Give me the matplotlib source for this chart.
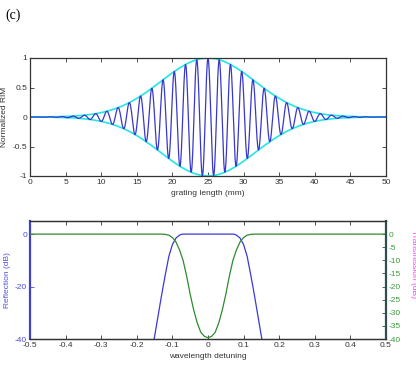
import numpy as np
import matplotlib.pyplot as plt

plt.rcParams['font.family'] = ['Liberation Sans', 'DejaVu Sans']
plt.rcParams['axes.unicode_minus'] = False

# top panel: apodisation envelope (every 1 mm, 0..50)
grating_mm = np.arange(0, 51, 1.0)
envelope = [0.0, 0.001, 0.002, 0.004, 0.006, 0.010, 0.015, 0.024, 0.035, 0.052,
            0.074, 0.104, 0.142, 0.189, 0.247, 0.315, 0.392, 0.477, 0.567, 0.660,
            0.749, 0.831, 0.901, 0.955, 0.989, 1.0,
            0.989, 0.955, 0.901, 0.831, 0.749, 0.660, 0.567, 0.477, 0.392, 0.315,
            0.247, 0.189, 0.142, 0.104, 0.074, 0.052, 0.035, 0.024, 0.015, 0.010,
            0.006, 0.004, 0.002, 0.001, 0.0]
grating_period = 1.58
grating_centre = 25.0

# bottom panel: reflection / transmission spectra (dB)
refl_x = [-0.165, -0.15, -0.14, -0.13, -0.12, -0.11, -0.10, -0.09, -0.08, -0.075, -0.07,
          0.07, 0.075, 0.08, 0.09, 0.10, 0.11, 0.12, 0.13, 0.14, 0.15, 0.165]
refl_db = [-50, -39, -31, -23, -15.5, -8.5, -4, -1.5, -0.4, -0.1, 0,
           0, -0.1, -0.4, -1.5, -4, -8.5, -15.5, -23, -31, -39, -50]
trans_x = [-0.5, -0.13, -0.12, -0.11, -0.10, -0.09, -0.08, -0.07, -0.06, -0.05, -0.04,
           -0.03, -0.02, -0.01, 0.0, 0.01, 0.02, 0.03, 0.04, 0.05, 0.06, 0.07, 0.08,
           0.09, 0.10, 0.11, 0.12, 0.13, 0.5]
trans_db = [0, 0, -0.1, -0.4, -1.3, -3, -6, -10, -16, -23, -29,
            -34, -37.5, -39, -39.5, -39, -37.5, -34, -29, -23, -16, -10, -6,
            -3, -1.3, -0.4, -0.1, 0, 0]

W, H = 416, 377
fig = plt.figure(figsize=(W / 100, H / 100), dpi=100)

fs = 6.0
dark = '#333333'


def style(ax):
    ax.tick_params(direction='in', length=3, width=0.6, labelsize=fs, pad=2,
                   top=True, colors=dark)
    for s in ax.spines.values():
        s.set_color(dark)
        s.set_linewidth(0.9)


# ---- top: normalized refractive index modulation
ax1 = fig.add_axes([30 / W, 1 - 176 / H, 356 / W, 118 / H])
x = np.linspace(0, 50, 2001)
env = np.interp(x, grating_mm, envelope)
rim = env * np.cos(2 * np.pi * (x - grating_centre) / grating_period)
ax1.plot(grating_mm, envelope, color='#22e6e6', lw=1.2)
ax1.plot(grating_mm, -np.array(envelope), color='#22e6e6', lw=1.2)
ax1.plot(x, rim, color='#3838cc', lw=0.9)
ax1.set_xlim(0, 50)
ax1.set_ylim(-1, 1)
ax1.set_xticks(range(0, 51, 5))
ax1.set_yticks([-1, -0.5, 0, 0.5, 1])
ax1.set_yticklabels(['-1', '-0.5', '0', '0.5', '1'])
style(ax1)
ax1.tick_params(right=True)
ax1.set_xlabel('grating length (mm)', fontsize=fs, labelpad=3, color=dark)
ax1.set_ylabel('Normalized RIM', fontsize=fs, labelpad=3, color=dark)

# ---- bottom: spectra
ax2 = fig.add_axes([30 / W, 1 - 339 / H, 356 / W, 118 / H])
ax3 = ax2.twinx()
ax2.plot(refl_x, refl_db, color='#3a3ad8', lw=0.9)
ax3.plot(trans_x, trans_db, color='#2e8b2e', lw=0.9)
for a in (ax2, ax3):
    a.set_xlim(-0.5, 0.5)
    a.set_ylim(-40, 5)
ax2.set_xticks(np.round(np.arange(-0.5, 0.51, 0.1), 1))
ax2.set_xticklabels(['-0.5', '-0.4', '-0.3', '-0.2', '-0.1', '0',
                     '0.1', '0.2', '0.3', '0.4', '0.5'])
ax2.set_yticks([-40, -20, 0])
ax3.set_yticks(range(-40, 1, 5))
style(ax2)
style(ax3)
ax2.tick_params(axis='y', colors='#4a4ae0')
ax2.tick_params(axis='x', colors=dark)
ax3.tick_params(axis='y', colors='#3c9a3c')
ax3.tick_params(axis='y', which='both', color='#2f4f4f')
ax2.spines['left'].set_color('#4040d0')
ax2.spines['left'].set_linewidth(1.6)
ax3.spines['left'].set_visible(False)
ax2.spines['right'].set_visible(False)
ax3.spines['right'].set_color('#2f4f4f')
ax3.spines['right'].set_linewidth(1.6)
ax2.set_xlabel('wavelength detuning', fontsize=fs, labelpad=3, color=dark)
ax2.set_ylabel('Reflection (dB)', fontsize=fs, labelpad=3, color='#5050e0')
fig.text(413 / W, 1 - 264 / H, 'Transmission (dB)', rotation=270,
         fontsize=fs, color='#ee44ee', ha='center', va='center')

fig.text(5 / W, 1 - 15 / H, '(c)', fontsize=10, family='Liberation Serif',
         ha='left', va='center')

fig.savefig('out.png', dpi=100)
